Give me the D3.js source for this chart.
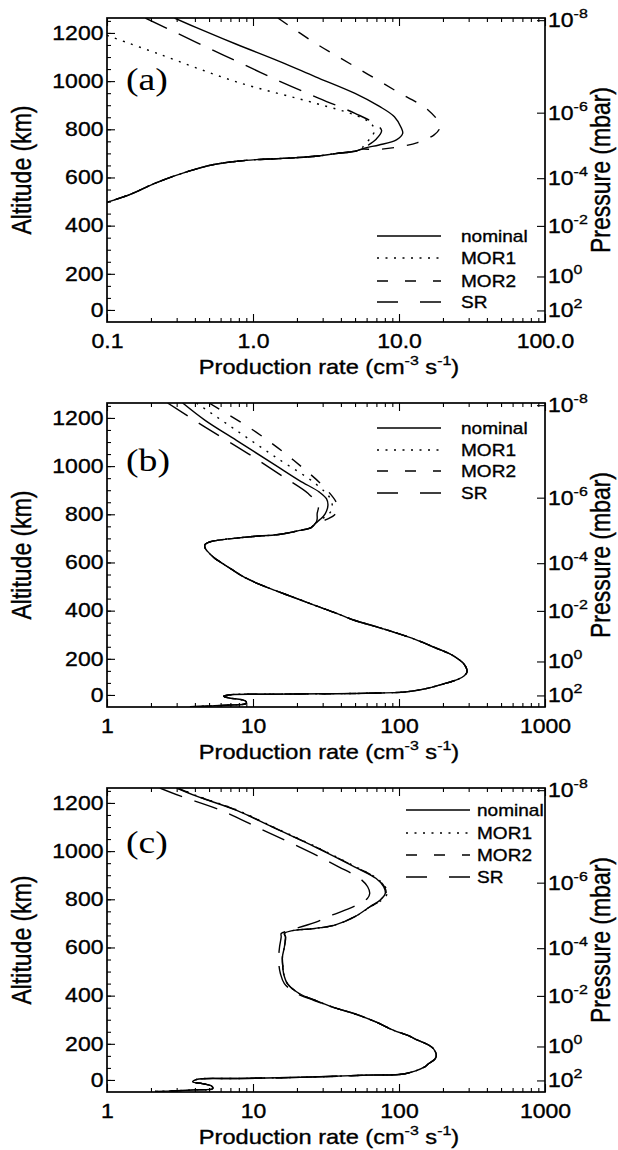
<!DOCTYPE html>
<html>
<head>
<meta charset="utf-8">
<script src="https://cdn.jsdelivr.net/npm/d3@7"></script>
<style>
  body { margin: 0; background: #fff; }
  text { fill: #000; }
  .heavy { stroke: #000; stroke-width: 0.35px; }
</style>
</head>
<body>
<svg id="fig" width="618" height="1150"></svg>
<script>
// ---- Production-rate profiles: [rate (cm^-3 s^-1), altitude (km)] ----

// Panel (a)
const aLower = [[5.6,718],[5.0,709],[3.66,699],[2.68,688],[1.96,682],[1.44,678],[1.05,674],[0.77,667],[0.53,653],[0.364,626],[0.221,580],[0.143,529],[0.1,497]];
const aNominal = [[0.29,1262],[0.41,1222],[0.77,1153],[1.5,1083],[2.68,1018],[5.0,949],[7.3,896],[9.3,852],[10.4,804],[10.6,783],[9.6,756],[7.3,735],[6.0,724]];
const aMOR1 = [[0.1,1190],[0.221,1115],[0.77,997],[2.68,908],[5.0,859],[6.4,825],[6.8,795],[6.4,765],[5.8,735],[5.6,722]];
const aMOR2 = [[1.48,1262],[2.68,1157],[5.0,1060],[9.3,963],[15.8,880],[18.9,825],[19.0,804],[17.4,777],[13.4,745],[9.3,724],[6.8,716]];
const aSR = [[0.183,1262],[0.412,1160],[0.77,1083],[1.43,1007],[2.68,935],[5.0,866],[6.8,825],[7.6,795],[7.0,760],[6.0,730],[5.6,720]];

// Panel (b)
const bLower = [[27,765],[25,745],[20.9,733],[15,716],[10,708],[7.7,701],[6,694],[5.1,686],[4.7,675],[4.7,660],[4.9,645],[5.4,620],[6.0,601],[7.2,570],[8.7,539],[11,510],[14.3,483],[20,450],[26.8,421],[37,390],[50,359],[70,333],[93,310],[130,280],[174,248],[224,220],[260,195],[278,179],[290,160],[292,145],[280,130],[253,115],[200,95],[150,75],[112,63],[60,57],[30,55],[12,53],[7,51],[6.3,45],[6.8,38],[8.4,30],[9,22],[8.9,14],[7,8],[5,4],[3.7,1]];
const bNominal = [[3.3,1262],[4.7,1190],[7.7,1107],[14.3,1003],[20.8,940],[28.5,892],[31.9,864],[32.6,837],[31.2,802],[29,780]];
const bMOR1 = [[4.1,1262],[7.7,1148],[14.3,1037],[26.8,927],[33.9,864],[34.8,823],[32.3,795],[29,778]];
const bMOR2 = [[5.0,1262],[10.5,1141],[19.0,1024],[32.3,899],[37.8,837],[36.7,802],[32.3,780],[29,770]];
const bSR = [[2.6,1262],[4.7,1162],[9.3,1051],[16.3,954],[24,885],[28,837],[27.5,802],[27.5,780]];

// Panel (c)
const cLower = [[49.5,727],[36.3,693],[26.5,679],[18.3,669],[16.4,658],[16.7,644],[16.4,602],[15.9,560],[16.0,520],[16.2,492],[17.2,450],[20.7,409],[26.5,381],[36,350],[49.5,325],[70,290],[92,256],[115,235],[134,215],[160,195],[172,180],[180,155],[177,138],[160,118],[150,104],[110,76],[60,70],[25,62],[8,56],[4.1,52],[3.86,42],[4.5,35],[5.2,25],[5.3,14],[4,9],[3,5],[2.14,2]];
const cNominal = [[3.0,1262],[4.1,1228],[7.66,1170],[14.2,1094],[26.5,1018],[49.5,935],[69.8,886],[78.5,852],[80.5,824],[74,796],[63.2,769]];
const cMOR1 = [[3.1,1262],[4.2,1228],[7.8,1170],[14.5,1094],[27,1018],[50.5,935],[71,886],[80.5,852],[83,824],[76,796],[64,769]];
const cMOR2 = [[3.05,1262],[4.15,1228],[7.7,1170],[14.3,1094],[26.7,1018],[50,935],[70.5,886],[79.5,852],[81.5,824],[75,796],[63.5,769]];
const cSR = [[2.3,1262],[3.2,1228],[6.0,1170],[11.1,1094],[20.7,1018],[38.6,935],[54,886],[61,852],[63,824],[61,805],[55,785],[45,760],[35,735],[27,705],[22,688],[17.4,669],[15.6,658],[15.6,644],[15.2,602],[15.0,560],[15.1,520],[15.4,492],[16.4,450],[20,409],[26,381]];

// ---- Axis labels and ticks ----
const seriesNames = ["nominal", "MOR1", "MOR2", "SR"];
const panelLetters = ["(a)", "(b)", "(c)"];
const rateDomainA = [0.1, 100];
const rateDomainBC = [1, 1000];
const rateTickValuesA = [0.1, 1, 10, 100];
const rateTickLabelsA = ["0.1", "1.0", "10.0", "100.0"];
const rateTickValuesBC = [1, 10, 100, 1000];
const rateTickLabelsBC = ["1", "10", "100", "1000"];
const altDomain = [0, 1262];
const altTickValues = [50, 200, 400, 600, 800, 1000, 1200];
const altTickLabels = ["0", "200", "400", "600", "800", "1000", "1200"];
const altMinorTicks = d3.range(50, 1262, 50);
const pressureTickAlts = [1253, 869, 597, 399, 189, 48];
const pressureTickExps = ["-8", "-6", "-4", "-2", "0", "2"];

// ---- Layout and styles ----
const box = { left: 107, right: 545, height: 304 };
const panelTops = [18, 403, 788];
const letterBaselines = [72, 68, 65];
const legendLayout = [
  { x0: 377, x1: 441, tx: 461, rows: [236, 258, 281, 302] },
  { x0: 377, x1: 441, tx: 461, rows: [428, 450, 471, 493] },
  { x0: 406, x1: 470, tx: 477, rows: [810, 833, 855, 877] }
];
const plotDash = { nominal: null, MOR1: "2,6.5", MOR2: "12,13", SR: "24,13" };
const legendDash = { nominal: null, MOR1: "2,6.5", MOR2: "11,17", SR: "21,22" };
const sans = "'Liberation Sans', Arial, Helvetica, sans-serif";
const serif = "'Liberation Serif', 'Times New Roman', serif";
const sx = 1.18;            // horizontal stretch of the lettering
const tickFont = 19.5, titleFont = 23, legendFont = 17;

const panels = [
  { series: { nominal: aNominal.concat(aLower), MOR1: aMOR1.concat(aLower), MOR2: aMOR2.concat(aLower), SR: aSR.concat(aLower) },
    domain: rateDomainA, tickValues: rateTickValuesA, tickLabels: rateTickLabelsA },
  { series: { nominal: bNominal.concat(bLower), MOR1: bMOR1.concat(bLower), MOR2: bMOR2.concat(bLower), SR: bSR.concat(bLower) },
    domain: rateDomainBC, tickValues: rateTickValuesBC, tickLabels: rateTickLabelsBC },
  { series: { nominal: cNominal.concat(cLower), MOR1: cMOR1.concat(cLower), MOR2: cMOR2.concat(cLower), SR: cSR.concat(cLower.slice(13)) },
    domain: rateDomainBC, tickValues: rateTickValuesBC, tickLabels: rateTickLabelsBC }
];

const svg = d3.select("#fig");

function minorLogTicks(domain) {
  const out = [];
  let d = domain[0];
  while (d < domain[1] * 0.999) {
    for (let k = 2; k <= 9; k++) out.push(d * k);
    d *= 10;
  }
  return out;
}

// text placed at (x, y) and widened horizontally
function wideText(parent, x, y, size, anchor, scale) {
  return parent.append("text").attr("class", "heavy")
    .attr("transform", `translate(${x},${y}) scale(${scale},1)`)
    .attr("text-anchor", anchor).attr("font-family", sans).attr("font-size", size);
}

panels.forEach((p, i) => {
  const top = panelTops[i];
  const bottom = top + box.height;
  const x = d3.scaleLog().domain(p.domain).range([box.left, box.right]);
  const y = d3.scaleLinear().domain(altDomain).range([bottom, top]);
  const g = svg.append("g");

  const clipId = "clip" + i;
  g.append("clipPath").attr("id", clipId).append("rect")
    .attr("x", box.left).attr("y", top).attr("width", box.right - box.left).attr("height", box.height);

  // profile curves
  const line = d3.line().x(d => x(d[0])).y(d => y(d[1])).curve(d3.curveCatmullRom.alpha(0.5));
  const curves = g.append("g").attr("clip-path", `url(#${clipId})`);
  seriesNames.forEach(name => {
    curves.append("path")
      .attr("d", line(p.series[name]))
      .attr("fill", "none")
      .attr("stroke", "#000")
      .attr("stroke-width", 1.4)
      .attr("stroke-dasharray", plotDash[name]);
  });

  // bottom and top rate axes (ticks point inward)
  const xb = d3.axisBottom(x).tickValues(p.tickValues).tickFormat((d, k) => p.tickLabels[k]).tickSizeInner(-8).tickSizeOuter(0).tickPadding(12);
  const xbMinor = d3.axisBottom(x).tickValues(minorLogTicks(p.domain)).tickFormat("").tickSizeInner(-4).tickSizeOuter(0);
  const xt = d3.axisTop(x).tickValues(p.tickValues).tickFormat("").tickSizeInner(-8).tickSizeOuter(0);
  const xtMinor = d3.axisTop(x).tickValues(minorLogTicks(p.domain)).tickFormat("").tickSizeInner(-4).tickSizeOuter(0);
  g.append("g").attr("transform", `translate(0,${bottom})`).call(xb);
  g.append("g").attr("transform", `translate(0,${bottom})`).call(xbMinor);
  g.append("g").attr("transform", `translate(0,${top})`).call(xt);
  g.append("g").attr("transform", `translate(0,${top})`).call(xtMinor);

  // altitude axis
  const yl = d3.axisLeft(y).tickValues(altTickValues).tickFormat((d, k) => altTickLabels[k]).tickSizeInner(-8).tickSizeOuter(0).tickPadding(3);
  const ylMinor = d3.axisLeft(y).tickValues(altMinorTicks).tickFormat("").tickSizeInner(-4).tickSizeOuter(0);
  g.append("g").attr("transform", `translate(${box.left},0)`).call(yl);
  g.append("g").attr("transform", `translate(${box.left},0)`).call(ylMinor);

  // pressure axis on the right, placed at the altitude of each pressure level
  const yr = d3.axisRight(y).tickValues(pressureTickAlts).tickFormat("").tickSizeInner(-8).tickSizeOuter(0);
  g.append("g").attr("transform", `translate(${box.right},0)`).call(yr);
  pressureTickAlts.forEach((a, k) => {
    const t = wideText(g, box.right + 3, y(a) + 7, tickFont, "start", sx);
    t.append("tspan").text("10");
    t.append("tspan").attr("dy", -9).attr("font-size", 13.5).text(pressureTickExps[k]);
  });

  g.selectAll(".domain").remove();
  g.selectAll(".tick line").attr("stroke", "#000").attr("stroke-width", 1.1);
  g.selectAll(".tick text").attr("class", "heavy").attr("font-family", sans).attr("font-size", tickFont)
    .attr("fill", "#000").attr("transform", `scale(${sx},1)`);

  // frame
  g.append("rect").attr("x", box.left).attr("y", top).attr("width", box.right - box.left).attr("height", box.height)
    .attr("fill", "none").attr("stroke", "#000").attr("stroke-width", 1.7);

  // axis titles (baseline on the right-hand side of the rotated glyphs)
  const midY = top + box.height / 2;
  g.append("text").attr("class", "heavy")
    .attr("transform", `translate(31,${midY}) rotate(-90) scale(1,${sx})`)
    .attr("text-anchor", "middle")
    .attr("font-family", sans).attr("font-size", titleFont).text("Altitude (km)");
  g.append("text").attr("class", "heavy")
    .attr("transform", `translate(610,${midY}) rotate(-90) scale(1,${sx})`)
    .attr("text-anchor", "middle")
    .attr("font-family", sans).attr("font-size", titleFont).text("Pressure (mbar)");
  const xt2 = wideText(g, (box.left + box.right) / 2 + 3, bottom + 52, 20, "middle", sx);
  xt2.append("tspan").text("Production rate (cm");
  xt2.append("tspan").attr("dy", -9).attr("font-size", 13.5).text("-3");
  xt2.append("tspan").attr("dy", 9).text(" s");
  xt2.append("tspan").attr("dy", -9).attr("font-size", 13.5).text("-1");
  xt2.append("tspan").attr("dy", 9).text(")");

  // panel letter
  g.append("text").attr("transform", `translate(126,${top + letterBaselines[i]}) scale(${sx},1)`)
    .attr("font-family", serif).attr("font-size", 32).text(panelLetters[i]);

  // legend
  const L = legendLayout[i];
  seriesNames.forEach((name, k) => {
    const ry = L.rows[k];
    g.append("line").attr("x1", L.x0).attr("x2", L.x1).attr("y1", ry).attr("y2", ry)
      .attr("stroke", "#000").attr("stroke-width", 1.4).attr("stroke-dasharray", legendDash[name]);
    wideText(g, L.tx, ry + 6, legendFont, "start", 1.12).text(name);
  });
});
</script>
</body>
</html>
